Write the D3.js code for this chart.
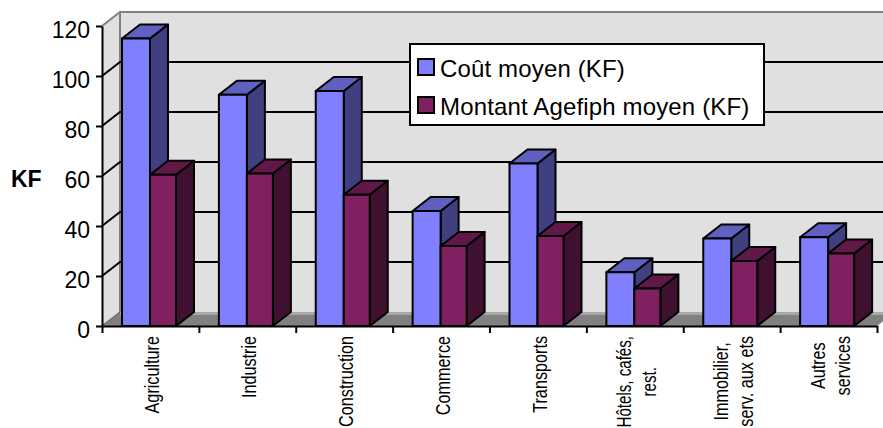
<!DOCTYPE html>
<html>
<head>
<meta charset="utf-8">
<script src="https://cdnjs.cloudflare.com/ajax/libs/d3/7.8.5/d3.min.js"></script>
<style>
html, body { margin: 0; padding: 0; background: #fff; }
svg { display: block; font-family: "Liberation Sans", Arial, sans-serif; }
</style>
</head>
<body>
<svg id="chart" width="883" height="428"></svg>
<script>
const categories = [
  ["Agriculture"],
  ["Industrie"],
  ["Construction"],
  ["Commerce"],
  ["Transports"],
  ["Hôtels, cafés,", "rest."],
  ["Immobilier,", "serv. aux ets"],
  ["Autres", "services"]
];
const coutMoyen = [115, 92.5, 94, 46, 65, 21.5, 35, 35.5];
const montantAgefiph = [60.5, 61, 52.5, 32, 36, 15, 26, 29];
const seriesNames = ["Coût moyen (KF)", "Montant Agefiph moyen (KF)"];
const yTicks = [0, 20, 40, 60, 80, 100, 120];

const palette = [
  { front: "#8080ff", side: "#404080", top: "#6060c0" },
  { front: "#802060", side: "#401030", top: "#601848" }
];

const svg = d3.select("#chart");
const depthX = 18, depthY = -14;   // oblique offset of the 3D projection
const plot = { left: 102, right: 877, top: 26, bottom: 326 };

const x = d3.scaleBand().domain(d3.range(categories.length))
  .range([plot.left, plot.right]).paddingInner(0).paddingOuter(0);
const y = d3.scaleLinear().domain([0, 120]).range([plot.bottom, plot.top]);

const pts = a => a.map(p => p.join(",")).join(" ");

// Walls and floor
svg.append("polygon").attr("fill", "#e0e0e0")
  .attr("points", pts([[plot.left, plot.top], [plot.left + depthX, plot.top + depthY],
    [883, plot.top + depthY], [883, plot.bottom], [plot.left, plot.bottom]]));
svg.append("polygon").attr("fill", "#808080")
  .attr("points", pts([[plot.left, plot.bottom], [plot.left + depthX, plot.bottom + depthY],
    [883, plot.bottom + depthY], [883, plot.bottom - 5], [plot.right, plot.bottom]]));
svg.append("polygon").attr("fill", "#ffffff")
  .attr("points", pts([[plot.right, plot.bottom + 1], [883, plot.bottom - 4], [883, plot.bottom + 1]]));
svg.append("line").attr("stroke", "#a8a8a8").attr("stroke-width", 3)
  .attr("x1", plot.left + depthX).attr("x2", 883)
  .attr("y1", plot.bottom + depthY + 1.5).attr("y2", plot.bottom + depthY + 1.5);

// Wall edges
svg.append("polyline").attr("fill", "none").attr("stroke", "#808080").attr("stroke-width", 2)
  .attr("points", pts([[plot.left, plot.top], [plot.left + depthX, plot.top + depthY],
    [883, plot.top + depthY]]));
svg.append("line").attr("stroke", "#808080").attr("stroke-width", 2)
  .attr("x1", plot.left + depthX).attr("x2", plot.left + depthX)
  .attr("y1", plot.top + depthY).attr("y2", plot.bottom + depthY);
svg.append("line").attr("stroke", "#707070").attr("stroke-width", 1.5)
  .attr("x1", plot.left).attr("y1", plot.bottom)
  .attr("x2", plot.left + depthX).attr("y2", plot.bottom + depthY);

// Gridlines: back wall plus the diagonal run across the side wall
const grid = svg.append("g").attr("stroke", "#000").attr("stroke-width", 2).attr("fill", "none");
grid.selectAll("polyline").data(yTicks.filter(t => t > 0 && t < 120)).join("polyline")
  .attr("points", t => pts([[plot.left, y(t)], [plot.left + depthX, y(t) + depthY], [883, y(t) + depthY]]));

// Bars, each with front, top and side faces
const barLayout = [{ start: 20, width: 28 }, { start: 48, width: 26 }];
[coutMoyen, montantAgefiph].forEach((values, s) => {
  const g = svg.append("g").attr("stroke", "#000").attr("stroke-width", 2).attr("stroke-linejoin", "round");
  const bar = g.selectAll("g").data(values).join("g");
  const x0 = (d, i) => x(i) + barLayout[s].start;
  const x1 = (d, i) => x0(d, i) + barLayout[s].width;
  bar.append("polygon").attr("fill", palette[s].side)
    .attr("points", (d, i) => pts([[x1(d, i), y(d)], [x1(d, i) + depthX, y(d) + depthY],
      [x1(d, i) + depthX, y(0) + depthY], [x1(d, i), y(0)]]));
  bar.append("polygon").attr("fill", palette[s].top)
    .attr("points", (d, i) => pts([[x0(d, i), y(d)], [x0(d, i) + depthX, y(d) + depthY],
      [x1(d, i) + depthX, y(d) + depthY], [x1(d, i), y(d)]]));
  bar.append("rect").attr("fill", palette[s].front)
    .attr("x", x0).attr("y", d => y(d))
    .attr("width", barLayout[s].width).attr("height", d => y(0) - y(d));
});

// Axes; the value labels sit a little below their ticks
const yAxis = d3.axisLeft(y).tickValues(yTicks).tickSize(6).tickPadding(6).tickSizeOuter(0);
const yG = svg.append("g").attr("transform", `translate(${plot.left},0)`).call(yAxis);
yG.selectAll("text").attr("font-size", 23).attr("font-family", "Liberation Sans")
  .attr("fill", "#000").attr("dy", "0.52em");
yG.selectAll("line, path").attr("stroke", "#000").attr("stroke-width", 2);

const tickScale = d3.scaleLinear().domain([0, categories.length]).range([plot.left, plot.right]);
const xAxis = d3.axisBottom(tickScale).tickValues(d3.range(categories.length + 1))
  .tickSize(7).tickSizeOuter(0).tickFormat("");
const xG = svg.append("g").attr("transform", `translate(0,${plot.bottom})`).call(xAxis);
xG.selectAll("line, path").attr("stroke", "#000").attr("stroke-width", 2);

// Rotated, condensed category labels: each block hangs below the axis
// and its lines are centred on one another.
const labelFont = 21, labelCondense = 16.2 / labelFont;
const lineGap = 25, labelTop = 336, labelBottom = 427.5;
const labels = svg.append("g").attr("font-size", labelFont).attr("fill", "#000").attr("text-anchor", "middle");
categories.forEach((lines, i) => {
  const cx = x(i) + x.bandwidth() / 2 + 9;
  const nodes = lines.map(line => labels.append("text").text(line));
  const natural = nodes.map(n => n.node().getComputedTextLength() * labelCondense);
  const blockLength = Math.min(d3.max(natural), labelBottom - labelTop);
  const fit = blockLength / d3.max(natural);
  nodes.forEach((n, k) => {
    const bx = cx + (k - (lines.length - 1) / 2) * lineGap;
    n.attr("transform",
      `translate(${bx},${labelTop + blockLength / 2}) rotate(-90) scale(${labelCondense * fit},1)`);
  });
});

// Axis title
svg.append("text").attr("x", 11).attr("y", 187).attr("font-size", 23).attr("font-weight", "bold").text("KF");

// Legend
const legend = svg.append("g");
legend.append("rect").attr("x", 410).attr("y", 44).attr("width", 354).attr("height", 81)
  .attr("fill", "#fff").attr("stroke", "#000").attr("stroke-width", 2);
seriesNames.forEach((name, i) => {
  const ly = 59 + i * 38;
  legend.append("rect").attr("x", 418).attr("y", ly).attr("width", 16).attr("height", 16)
    .attr("fill", palette[i].front).attr("stroke", "#000").attr("stroke-width", 2);
  legend.append("text").attr("x", 440).attr("y", ly + 18).attr("font-size", 24)
    .attr("letter-spacing", 0.15).attr("fill", "#000").text(name);
});
</script>
</body>
</html>
